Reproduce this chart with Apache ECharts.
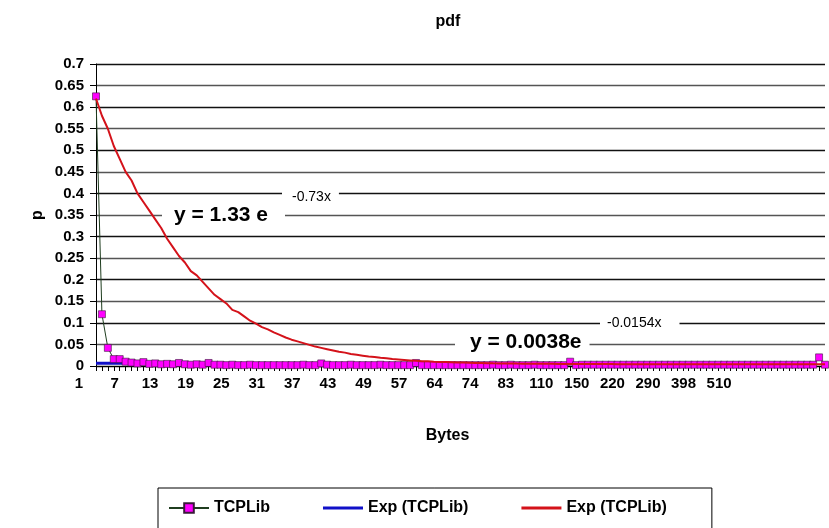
<!DOCTYPE html>
<html>
<head>
<meta charset="utf-8">
<script src="https://cdn.jsdelivr.net/npm/echarts@6/dist/echarts.min.js"></script>
<style>html,body{margin:0;padding:0;background:#fff}#c{width:829px;height:528px}</style>
</head>
<body>
<div id="c"></div>
<script>
// Byte-size categories (only every 6th is labelled in the picture)
const categories = [
  1,2,3,4,5,6,7,8,9,10,11,12,13,14,15,16,17,18,19,20,21,22,23,24,25,26,27,28,29,30,
  31,32,33,34,35,36,37,38,39,40,41,42,43,44,45,46,47,48,49,
  50,51,52,54,56,57,58,59,60,62,63,64,65,66,68,70,72,74,75,76,78,80,82,83,
  86,90,95,100,105,110,115,120,128,135,142,150,160,170,180,195,210,220,
  230,240,255,265,280,290,310,330,350,365,380,398,410,430,450,470,490,510,
  530,552,576,600,640,680,730,780,850,920,1000,1100,1200,1350,1460
];
const labelledCategories = [1,7,13,19,25,31,37,43,49,57,64,74,83,110,150,220,290,398,510];

// Observed pdf (TCPLib)
const tcplib = [
  0.625,0.12,0.042,0.016,0.016,0.01,0.008,0.006,0.009,0.005,
  0.006,0.004,0.005,0.004,0.007,0.004,0.003,0.004,0.003,0.007,
  0.003,0.003,0.002,0.003,0.002,0.002,0.003,0.002,0.002,0.002,
  0.002,0.002,0.002,0.002,0.002,0.003,0.002,0.002,0.006,0.003,
  0.002,0.002,0.002,0.003,0.002,0.002,0.002,0.002,0.003,0.002,
  0.002,0.002,0.002,0.002,0.007,0.002,0.002,0.002,0.002,0.002,
  0.002,0.002,0.002,0.002,0.002,0.002,0.002,0.003,0.002,0.002,
  0.003,0.002,0.002,0.002,0.003,0.002,0.002,0.002,0.002,0.002,
  0.01,0.002,0.003,0.003,0.003,0.003,0.003,0.003,0.003,0.003,
  0.003,0.003,0.003,0.003,0.003,0.003,0.003,0.003,0.003,0.003,
  0.003,0.003,0.003,0.003,0.003,0.003,0.003,0.003,0.003,0.003,
  0.003,0.003,0.003,0.003,0.003,0.003,0.003,0.003,0.003,0.003,
  0.003,0.003,0.02,0.003
];

// Exponential fit y = 0.0038e^-0.0154x (blue)
const expBlue = [
  0.0065,0.0065,0.0064,0.0064,0.0063,0.0063,0.0062,0.0062,0.0061,0.0061,
  0.006,0.006,0.0059,0.0059,0.0058,0.0058,0.0057,0.0057,0.0056,0.0056,
  0.0055,0.0055,0.0054,0.0054,0.0053,0.0053,0.0052,0.0052,0.0052,0.0051,
  0.0051,0.005,0.005,0.005,0.0049,0.0049,0.0049,0.0048,0.0048,0.0048,
  0.0047,0.0047,0.0047,0.0046,0.0046,0.0046,0.0045,0.0045,0.0045,0.0044,
  0.0044,0.0044,0.0044,0.0043,0.0043,0.0043,0.0042,0.0042,0.0042,0.0042,
  0.0041,0.0041,0.0041,0.0041,0.004,0.004,0.004
];

// Exponential fit y = 1.33e^-0.73x (red)
const expRed = [
  0.62,0.58,0.55,0.51,0.48,0.45,0.43,0.40,0.38,0.36,
  0.34,0.32,0.295,0.275,0.255,0.24,0.22,0.21,0.195,0.18,
  0.165,0.155,0.145,0.13,0.125,0.115,0.105,0.098,0.09,0.085,
  0.078,0.072,0.066,0.061,0.057,0.053,0.049,0.045,0.042,0.039,
  0.036,0.033,0.031,0.028,0.026,0.024,0.022,0.021,0.019,0.018,
  0.016,0.015,0.014,0.013,0.012,0.011,0.011,0.010,0.0095,0.009,
  0.0085,0.008,0.008,0.0075,0.007,0.007,0.0065,0.0062,0.006,0.006,
  0.0058,0.0056,0.0055,0.0054,0.0052,0.005,0.005,0.005,0.0048,0.0048,
  0.0047,0.0046,0.0046,0.0045,0.0045,0.0044,0.0044,0.0044,0.0043,0.0043,
  0.0043,0.0042,0.0042,0.0042,0.0042,0.0041,0.0041,0.0041,0.0041,0.004,
  0.004,0.004,0.004,0.004,0.004,0.004,0.004,0.004,0.004,0.004,
  0.004,0.004,0.004,0.004,0.004,0.004,0.004,0.004,0.004,0.004,
  0.004,0.004,0.004,0.004
];

const FONT = '"Liberation Sans", Arial, sans-serif';
const chart = echarts.init(document.getElementById('c'), null, {renderer: 'canvas'});
const labelSet = new Set(labelledCategories.map(String));
const lineIcon = 'path://M0 0H40V3H0Z';

chart.setOption({
  animation: false,
  backgroundColor: '#fff',
  title: {
    text: 'pdf', left: 443, top: 9, textAlign: 'center',
    textStyle: {fontFamily: FONT, fontSize: 16, fontWeight: 'bold', color: '#000'}
  },
  grid: {left: 96, right: 4, top: 64, bottom: 162, containLabel: false},
  xAxis: {
    type: 'category',
    data: categories.map(String),
    boundaryGap: false,
    name: 'Bytes', nameLocation: 'middle', nameGap: 62,
    nameTextStyle: {fontFamily: FONT, fontSize: 16, fontWeight: 'bold', color: '#000', padding: [0, 26, 0, 0]},
    axisLine: {lineStyle: {color: '#000', width: 1}},
    axisTick: {show: true, interval: 0, length: 5, alignWithLabel: true, lineStyle: {color: '#000'}},
    axisLabel: {
      interval: (i, v) => labelSet.has(v) && i <= 108,
      margin: 10,
      fontFamily: FONT, fontSize: 15, fontWeight: 'bold', color: '#000',
      padding: [0, 34, 0, 0]
    },
    splitLine: {show: false}
  },
  yAxis: {
    type: 'value', min: 0, max: 0.7, interval: 0.05,
    name: 'p', nameLocation: 'middle', nameGap: 50, nameRotate: 90, nameMoveOverlap: false,
    nameTextStyle: {fontFamily: FONT, fontSize: 16, fontWeight: 'bold', color: '#000'},
    axisLine: {show: true, lineStyle: {color: '#000', width: 1}},
    axisTick: {show: true, length: 6, inside: false, lineStyle: {color: '#000'}},
    axisLabel: {margin: 12, fontFamily: FONT, fontSize: 15, fontWeight: 'bold', color: '#000'},
    splitLine: {show: true, lineStyle: {color: ['#111', '#555'], width: 1.4}}
  },
  legend: {
    left: 158, top: 488,
    padding: [12, 45, 40, 10],
    itemGap: 53, itemWidth: 40, itemHeight: 12,
    borderColor: '#000', borderWidth: 1,
    formatter: n => n.trim(),
    textStyle: {fontFamily: FONT, fontSize: 16, fontWeight: 'bold', color: '#000'},
    data: [
      {name: 'TCPLib'},
      {name: 'Exp (TCPLib)', icon: lineIcon},
      {name: 'Exp (TCPLib) ', icon: lineIcon}
    ]
  },
  graphic: [
    {type: 'text', left: 162, top: 202, z: 1,
     style: {text: 'y = 1.33 e', font: 'bold 21px ' + FONT, fill: '#000', backgroundColor: '#fff', padding: [3, 17, 3, 12]}},
    {type: 'text', left: 282, top: 188, z: 1,
     style: {text: '-0.73x', font: '14px ' + FONT, fill: '#000', backgroundColor: '#fff', padding: [2, 8, 2, 10]}},
    {type: 'text', left: 455, top: 329, z: 1,
     style: {text: 'y = 0.0038e', font: 'bold 21px ' + FONT, fill: '#000', backgroundColor: '#fff', padding: [3, 8, 3, 15]}},
    {type: 'text', left: 600, top: 314, z: 1,
     style: {text: '-0.0154x', font: '14px ' + FONT, fill: '#000', backgroundColor: '#fff', padding: [2, 18, 2, 7]}}
  ],
  series: [
    {
      name: 'TCPLib', type: 'line', data: tcplib, z: 3,
      symbol: 'rect', symbolSize: 7, showAllSymbol: true,
      lineStyle: {color: '#1f3d1f', width: 1},
      itemStyle: {color: '#ff00ff', borderColor: '#3a1a3a', borderWidth: 0.6}
    },
    {
      name: 'Exp (TCPLib)', type: 'line', data: expBlue, z: 2,
      symbol: 'none', lineStyle: {color: '#1010c8', width: 3},
      itemStyle: {color: '#1010c8'}
    },
    {
      name: 'Exp (TCPLib) ', type: 'line', data: expRed, z: 4,
      symbol: 'none', lineStyle: {color: '#d4121a', width: 2},
      itemStyle: {color: '#d4121a'}
    }
  ]
});
</script>
</body>
</html>
